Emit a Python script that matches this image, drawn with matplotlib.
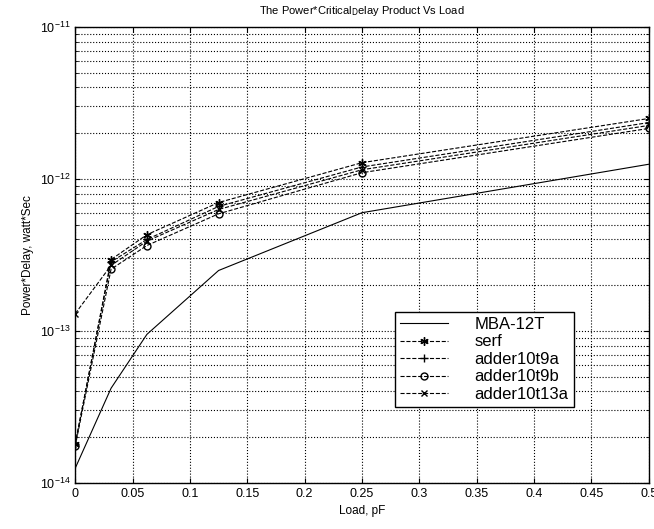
import matplotlib
matplotlib.use("Agg")
import matplotlib.pyplot as plt
from matplotlib.ticker import LogLocator, NullFormatter

plt.rcParams['font.family'] = ['Liberation Sans', 'DejaVu Sans']

load = [0, 0.03125, 0.0625, 0.125, 0.25, 0.5]
mba12t = [1.25e-14, 4.2e-14, 9.5e-14, 2.5e-13, 6.0e-13, 1.25e-12]
serf = [1.8e-14, 2.95e-13, 4.3e-13, 7.0e-13, 1.28e-12, 2.5e-12]
adder10t9a = [1.8e-14, 2.85e-13, 4.0e-13, 6.6e-13, 1.2e-12, 2.35e-12]
adder10t9b = [1.75e-14, 2.55e-13, 3.65e-13, 5.9e-13, 1.1e-12, 2.15e-12]
adder10t13a = [1.3e-13, 2.7e-13, 3.9e-13, 6.3e-13, 1.15e-12, 2.25e-12]
xticks = [0, 0.05, 0.1, 0.15, 0.2, 0.25, 0.3, 0.35, 0.4, 0.45, 0.5]
xlabels = ['0', '0.05', '0.1', '0.15', '0.2', '0.25', '0.3', '0.35', '0.4', '0.45', '0.5']

fig = plt.figure(figsize=(6.54, 5.29), dpi=100)
ax = fig.add_axes([0.115, 0.087, 0.877, 0.862])

ax.plot(load, mba12t, '-', color='k', lw=0.8, label='MBA-12T')
ax.plot(load, serf, '--', color='k', lw=0.8, marker=(6, 2, 0), ms=6, label='serf')
ax.plot(load, adder10t9a, '--', color='k', lw=0.8, marker='+', ms=6, label='adder10t9a')
ax.plot(load, adder10t9b, '--', color='k', lw=0.8, marker='o', ms=5, mfc='none', label='adder10t9b')
ax.plot(load, adder10t13a, '--', color='k', lw=0.8, marker='x', ms=4, label='adder10t13a')

ax.set_yscale('log')
ax.set_xlim(0, 0.5)
ax.set_ylim(1e-14, 1e-11)
ax.set_xticks(xticks)
ax.set_xticklabels(xlabels)
ax.yaxis.set_minor_locator(LogLocator(base=10, subs=range(2, 10)))
ax.yaxis.set_minor_formatter(NullFormatter())
ax.grid(True, which='major', linestyle=':', color='k', lw=0.8)
ax.grid(True, which='minor', axis='y', linestyle=':', color='k', lw=0.8)
ax.tick_params(which='both', direction='in', top=True, right=True, labelsize=9)
for s in ax.spines.values():
    s.set_linewidth(1.0)

ax.set_title('The Power*Critical$_\\mathrm{D}$elay Product Vs Load', fontsize=8, pad=9)
ax.set_xlabel('Load, pF', fontsize=8.5)
ax.set_ylabel('Power*Delay, watt*Sec', fontsize=8.5)

leg = ax.legend(loc='upper left', bbox_to_anchor=(0.557, 0.375), fontsize=12,
                frameon=True, fancybox=False, edgecolor='k', framealpha=1,
                handlelength=2.9, borderpad=0.3, labelspacing=0.15, handletextpad=1.6,
                borderaxespad=0)
leg.get_frame().set_linewidth(1.0)

fig.savefig('out.png', dpi=100)
